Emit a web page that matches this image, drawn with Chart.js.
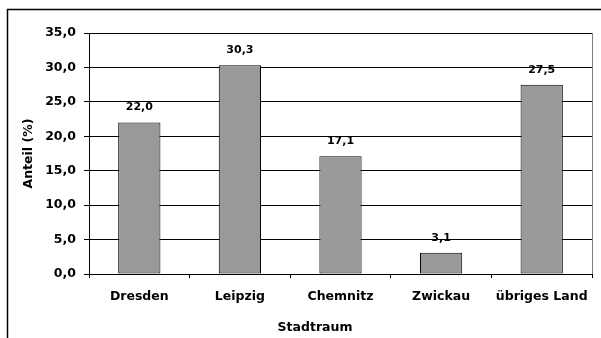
<!DOCTYPE html>
<html>
<head>
<meta charset="utf-8">
<script src="https://cdn.jsdelivr.net/npm/chart.js@4/dist/chart.umd.min.js"></script>
<style>
  html, body { margin: 0; padding: 0; background: #fff; }
  canvas { display: block; }
</style>
</head>
<body>
<canvas id="chart" width="601" height="338"></canvas>
<script>
// Share of respondents per urban area (percent)
const categories = ['Dresden', 'Leipzig', 'Chemnitz', 'Zwickau', 'übriges Land'];
const shares = [22.0, 30.3, 17.1, 3.1, 27.5];
const yTickValues = [0, 5, 10, 15, 20, 25, 30, 35];
const xAxisTitle = 'Stadtraum';
const yAxisTitle = 'Anteil (%)';

const FONT = '"DejaVu Sans", "Liberation Sans", Arial, sans-serif';
const fmt = v => v.toFixed(1).replace('.', ',');

const decorations = {
  id: 'decorations',
  beforeDraw(chart) {
    const ctx = chart.ctx;
    ctx.save();
    ctx.fillStyle = '#fff';
    ctx.fillRect(0, 0, chart.width, chart.height);
    // outer chart frame
    ctx.strokeStyle = '#000';
    ctx.lineWidth = 1.5;
    ctx.beginPath();
    ctx.moveTo(7.5, chart.height + 5);
    ctx.lineTo(7.5, 9.5);
    ctx.lineTo(chart.width + 5, 9.5);
    ctx.stroke();
    ctx.restore();
  },
  afterDatasetsDraw(chart) {
    const ctx = chart.ctx;
    const area = chart.chartArea;
    ctx.save();
    // right edge of the plot area
    ctx.strokeStyle = '#808080';
    ctx.lineWidth = 1;
    ctx.beginPath();
    ctx.moveTo(Math.round(area.right) + 0.5, area.top);
    ctx.lineTo(Math.round(area.right) + 0.5, area.bottom);
    ctx.stroke();
    // value labels above the bars
    ctx.fillStyle = '#000';
    ctx.font = 'bold 11px ' + FONT;
    ctx.textAlign = 'center';
    ctx.textBaseline = 'middle';
    const meta = chart.getDatasetMeta(0);
    meta.data.forEach((bar, i) => {
      ctx.fillText(fmt(chart.data.datasets[0].data[i]), bar.x, bar.y - 15);
    });
    ctx.restore();
  },
  afterDraw(chart) {
    const ctx = chart.ctx;
    ctx.save();
    ctx.fillStyle = '#000';
    ctx.font = 'bold 12.5px ' + FONT;
    ctx.textAlign = 'center';
    ctx.textBaseline = 'middle';
    ctx.fillText(xAxisTitle, 315, 328);
    ctx.restore();
  }
};

new Chart(document.getElementById('chart'), {
  type: 'bar',
  data: {
    labels: categories,
    datasets: [{
      data: shares,
      backgroundColor: '#999999',
      borderColor: '#000000',
      borderWidth: 1,
      borderSkipped: false,
      categoryPercentage: 1,
      barPercentage: 0.42
    }]
  },
  options: {
    responsive: false,
    animation: false,
    devicePixelRatio: 1,
    layout: { padding: { left: 0, top: 33, right: 9, bottom: 0 } },
    plugins: {
      legend: { display: false },
      tooltip: { enabled: false }
    },
    scales: {
      x: {
        grid: {
          display: true,
          offset: true,
          drawOnChartArea: false,
          drawTicks: true,
          tickLength: 4,
          color: '#000'
        },
        border: { display: true, color: '#000', width: 1 },
        ticks: {
          color: '#000',
          padding: 11,
          maxRotation: 0,
          autoSkip: false,
          font: { family: FONT, size: 12.5, weight: 'bold' }
        },
        afterFit(scale) { scale.height = 64; }
      },
      y: {
        min: 0,
        max: 35,
        afterBuildTicks(scale) { scale.ticks = yTickValues.map(v => ({ value: v })); },
        grid: {
          color: '#000',
          lineWidth: 1,
          tickLength: 5,
          drawTicks: true
        },
        border: { display: true, color: '#000', width: 1 },
        ticks: {
          color: '#000',
          padding: 8,
          callback: v => fmt(v),
          font: { family: FONT, size: 12.5, weight: 'bold' }
        },
        title: {
          display: true,
          text: yAxisTitle,
          color: '#000',
          padding: { top: 21, bottom: 0 },
          font: { family: FONT, size: 12.5, weight: 'bold' }
        },
        afterFit(scale) { scale.width = 89; }
      }
    }
  },
  plugins: [decorations]
});
</script>
</body>
</html>
